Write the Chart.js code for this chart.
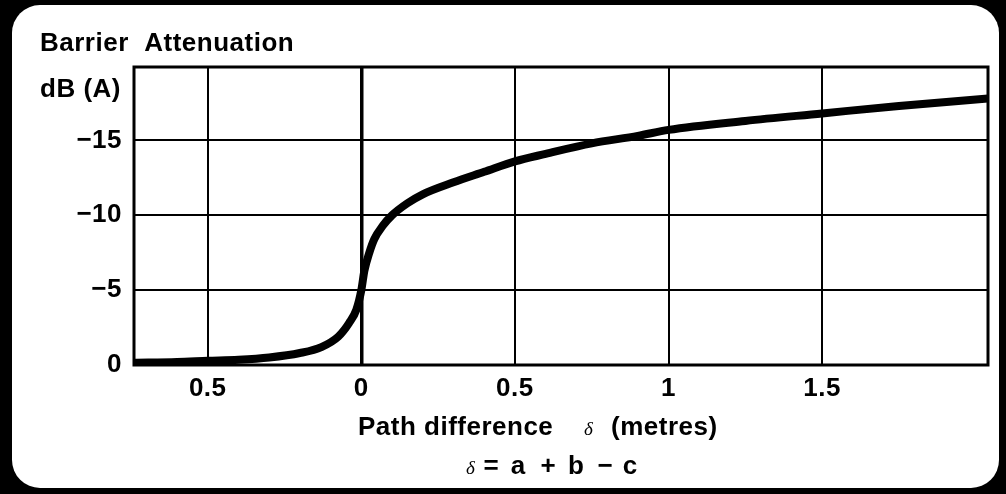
<!DOCTYPE html>
<html>
<head>
<meta charset="utf-8">
<script src="https://cdn.jsdelivr.net/npm/chart.js@4/dist/chart.umd.min.js"></script>
<style>
  html, body { margin: 0; padding: 0; background: #000; width: 1006px; height: 494px; overflow: hidden; }
  #card { position: absolute; left: 12px; top: 5px; width: 987px; height: 483px; background: #fff; border-radius: 28px; }
  #wrap { position: absolute; left: 0; top: 0; width: 1006px; height: 494px; }
</style>
</head>
<body>
<div id="card"></div>
<div id="wrap"><canvas id="c" width="1006" height="494"></canvas></div>
<script>
// Path difference δ (metres)
const pathDiff = [-0.74, -0.6, -0.5, -0.4, -0.3, -0.2, -0.13, -0.075, -0.04, -0.016, 0,
                  0.01, 0.026, 0.042, 0.07, 0.1, 0.15, 0.2, 0.3, 0.4, 0.5, 0.6, 0.75, 0.9, 1.0, 1.25, 1.5, 1.75, 2.04];
// Barrier attenuation dB(A)
const attenuation = [-0.15, -0.2, -0.28, -0.35, -0.5, -0.8, -1.2, -1.9, -2.8, -3.7, -5.0,
                     -6.3, -7.5, -8.4, -9.3, -10.0, -10.8, -11.4, -12.2, -12.9, -13.6, -14.1, -14.8, -15.3, -15.7, -16.3, -16.8, -17.3, -17.8];
const xTicks = [-0.5, 0, 0.5, 1, 1.5];
const yTicks = [0, -5, -10, -15];
const xRange = [-0.74, 2.04];
const yRange = [-19.9, 0];

const FONT = '"Liberation Sans", Arial, sans-serif';
const SP = '0.5px';

const points = pathDiff.map((x, i) => ({ x: x, y: attenuation[i] }));

const framePlugin = {
  id: 'frame',
  beforeDraw(chart) { chart.ctx.letterSpacing = SP; },
  beforeDatasetsDraw(chart) {
    const { ctx, chartArea: a } = chart;
    ctx.save();
    ctx.strokeStyle = '#000';
    ctx.lineWidth = 3;
    ctx.strokeRect(a.left, a.top, a.right - a.left, a.bottom - a.top);
    ctx.restore();
  },
  afterDraw(chart) {
    const { ctx } = chart;
    ctx.save();
    ctx.fillStyle = '#000';
    ctx.textBaseline = 'alphabetic';
    ctx.textAlign = 'left';
    ctx.letterSpacing = SP;
    ctx.font = 'bold 26px ' + FONT;
    ctx.fillText('Barrier  Attenuation', 40, 51);
    ctx.fillText('dB (A)', 40, 97);
    // x axis title line 1
    const y1 = 435;
    ctx.fillText('Path difference', 358, y1);
    ctx.fillText('(metres)', 611, y1);
    ctx.font = 'italic 19px "Liberation Serif", serif';
    ctx.letterSpacing = '0px';
    ctx.fillText('δ', 584, y1);
    // line 2
    const y2 = 474;
    ctx.fillText('δ', 466, y2);
    ctx.font = 'bold 26px ' + FONT;
    ctx.textAlign = 'center';
    const parts = ['=', 'a', '+', 'b', '−', 'c'];
    const px = [491, 518, 548, 576, 605, 630];
    parts.forEach((p, i) => ctx.fillText(p, px[i], y2));
    ctx.restore();
  }
};

new Chart(document.getElementById('c'), {
  type: 'line',
  data: {
    datasets: [{
      data: points,
      borderColor: '#000',
      borderWidth: 8,
      pointRadius: 0,
      cubicInterpolationMode: 'monotone',
      borderCapStyle: 'round',
      borderJoinStyle: 'round',
      fill: false
    }]
  },
  options: {
    responsive: false,
    animation: false,
    layout: { padding: { left: 0, top: 67, right: 18, bottom: 0 } },
    plugins: { legend: { display: false }, tooltip: { enabled: false }, title: { display: false } },
    scales: {
      x: {
        type: 'linear',
        min: xRange[0], max: xRange[1],
        afterBuildTicks(scale) { scale.ticks = xTicks.map(v => ({ value: v })); },
        afterFit(scale) { scale.height = 494 - 365; },
        grid: { color: '#000', lineWidth: ctx => (ctx.tick && ctx.tick.value === 0 ? 3.5 : 2), drawTicks: false },
        border: { display: false },
        ticks: {
          color: '#000', padding: 8, maxRotation: 0, autoSkip: false,
          font: { family: FONT, size: 26, weight: 'bold' },
          callback: v => String(Math.abs(v))
        }
      },
      y: {
        type: 'linear',
        reverse: true,
        min: yRange[0], max: yRange[1],
        afterBuildTicks(scale) { scale.ticks = yTicks.map(v => ({ value: v })); },
        afterFit(scale) { scale.width = 134; },
        grid: { color: '#000', lineWidth: 2, drawTicks: false },
        border: { display: false },
        ticks: {
          color: '#000', padding: 12,
          font: { family: FONT, size: 26, weight: 'bold' },
          callback: v => (v === 0 ? '0' : '−' + Math.abs(v))
        }
      }
    }
  },
  plugins: [framePlugin]
});
</script>
</body>
</html>
